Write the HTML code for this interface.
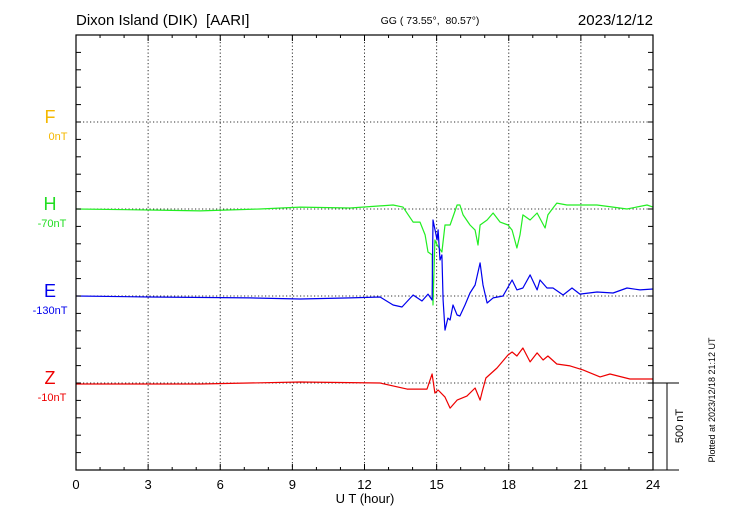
<!DOCTYPE html>
<html><head><meta charset="utf-8"><style>
body{margin:0;background:#fff;}
svg{display:block;font-family:"Liberation Sans",sans-serif;}
</style></head><body>
<svg id="chart" width="730" height="520">
<text x="76" y="25" font-size="15" style="white-space:pre" xml:space="preserve">Dixon Island (DIK)  [AARI]</text>
<text x="430" y="24" font-size="10.5" text-anchor="middle" style="white-space:pre" xml:space="preserve">GG ( 73.55°,  80.57°)</text>
<text x="653" y="25" font-size="15" text-anchor="end">2023/12/12</text>
<text x="365" y="503" font-size="13" text-anchor="middle">U T (hour)</text>
<g>
<text x="50" y="123" font-size="18" fill="#f5b800" text-anchor="middle">F</text>
<text x="58" y="140" font-size="11" fill="#f5b800" text-anchor="middle">0nT</text>
<text x="50" y="210" font-size="18" fill="#22dd22" text-anchor="middle">H</text>
<text x="52" y="227" font-size="11" fill="#22dd22" text-anchor="middle">-70nT</text>
<text x="50" y="297" font-size="18" fill="#0000ee" text-anchor="middle">E</text>
<text x="50" y="314" font-size="11" fill="#0000ee" text-anchor="middle">-130nT</text>
<text x="50" y="384" font-size="18" fill="#ee0000" text-anchor="middle">Z</text>
<text x="52" y="401" font-size="11" fill="#ee0000" text-anchor="middle">-10nT</text>
</g>
<g stroke="#000" stroke-width="1">
<line x1="653" y1="383" x2="679" y2="383"/><line x1="653" y1="470" x2="679" y2="470"/><line x1="667" y1="383" x2="667" y2="470"/>
</g>
<text transform="translate(683,426) rotate(-90)" font-size="11" text-anchor="middle">500 nT</text>
<text transform="translate(715,400) rotate(-90)" font-size="9" text-anchor="middle">Plotted at 2023/12/18 21:12 UT</text>
<g id="grid"></g><g id="series"></g><g id="axes"></g>
</svg>
<script>
const hTimes=[0,3.08,5.16,7.65,9.32,11.4,13.19,13.6,14.02,14.31,14.52,14.64,14.81,14.85,14.93,15.02,15.22,15.35,15.56,15.85,15.97,16.1,16.39,16.6,16.72,16.81,17.1,17.35,17.64,17.97,18.14,18.34,18.47,18.59,18.89,19.18,19.51,19.63,19.84,20.0,20.42,20.96,21.67,22.34,22.92,23.75,24];
const hValues=[0,-6,-11,0,11,6,23,11,-75,-75,-149,-247,-264,-552,-178,-207,-247,-92,-92,23,23,-34,-92,-121,-207,-92,-63,-23,-75,-92,-121,-224,-149,-34,-63,-23,-109,-34,6,34,23,23,23,11,0,23,11];
const eTimes=[0,3.08,7.24,9.32,11.4,12.65,13.19,13.56,14.02,14.39,14.64,14.81,14.85,15.02,15.06,15.14,15.22,15.27,15.35,15.47,15.56,15.68,15.85,15.97,16.18,16.39,16.6,16.81,16.93,17.1,17.35,17.76,18.14,18.34,18.59,18.89,19.18,19.3,19.59,19.84,20.26,20.63,20.96,21.67,22.34,22.92,23.46,24];
const eValues=[0,-6,-11,-17,-11,-6,-52,-63,6,-29,11,-23,437,322,380,207,236,-23,-196,-127,-138,-52,-109,-115,-52,17,63,190,63,-40,-11,0,92,35,46,121,35,92,46,46,6,46,11,23,17,46,35,40];
const zTimes=[0,5.16,9.32,12.65,13.77,14.6,14.81,14.93,15.06,15.35,15.56,15.85,16.26,16.6,16.81,16.89,17.05,17.51,17.97,18.14,18.34,18.59,18.89,19.18,19.43,19.63,20.0,20.55,21.09,21.8,22.21,23.04,24];
const zValues=[-6,-6,6,0,-35,-35,52,-58,-40,-81,-144,-98,-75,-29,-98,-52,29,86,161,178,155,201,121,173,132,155,109,98,75,35,52,23,23];
const xTickLabels=["0","3","6","9","12","15","18","21","24"];
const X0=76,X1=653,Y0=35,Y1=470,NT_PX=87/500;
const baselines={F:122,H:209,E:296,Z:383};
const xs=h=>X0+h*(X1-X0)/24;
const ys=(base,v)=>base-v*NT_PX;
const NS="http://www.w3.org/2000/svg";
function mk(tag,attrs,parent){const e=document.createElementNS(NS,tag);for(const k in attrs)e.setAttribute(k,attrs[k]);parent.appendChild(e);return e;}
const grid=document.getElementById('grid'),axes=document.getElementById('axes'),series=document.getElementById('series');
for(let i=1;i<8;i++){const l=mk('line',{x1:xs(i*3),x2:xs(i*3),y1:Y0,y2:Y1,stroke:'#333','stroke-dasharray':'1.2,2.3','stroke-width':1},grid);

}
for(const k of ['F','H','E','Z']){const l=mk('line',{x1:X0,x2:X1,y1:baselines[k],y2:baselines[k],stroke:'#333','stroke-dasharray':'1.2,2.3','stroke-width':1},grid);

}
const frame=mk('rect',{x:X0,y:Y0,width:X1-X0,height:Y1-Y0,fill:'none',stroke:'#000','stroke-width':1.2},axes);


for(let y=Y0+(383-Y0)%17.4;y<Y1;y+=17.4){mk('line',{x1:X0,x2:X0+5,y1:y,y2:y,stroke:'#000'},axes);mk('line',{x1:X1-5,x2:X1,y1:y,y2:y,stroke:'#000'},axes);}
for(let h=1;h<24;h++){const len=h%3?3:6;mk('line',{x1:xs(h),x2:xs(h),y1:Y1,y2:Y1-len,stroke:'#000'},axes);mk('line',{x1:xs(h),x2:xs(h),y1:Y0,y2:Y0+len,stroke:'#000'},axes);}
xTickLabels.forEach((t,i)=>{const e=mk('text',{x:xs(i*3),y:489,'font-size':13,'text-anchor':'middle'},axes);e.textContent=t;

});
function draw(times,vals,base,color,name){const d=times.map((t,i)=>(i?'L':'M')+xs(t).toFixed(1)+','+ys(base,vals[i]).toFixed(1)).join(' ');
const p=mk('path',{d:d,fill:'none',stroke:color,'stroke-width':1.2,'stroke-linejoin':'round'},series);

}
draw(hTimes,hValues,baselines.H,'#22ee22','h-component-line');
draw(eTimes,eValues,baselines.E,'#0000ee','e-component-line');
draw(zTimes,zValues,baselines.Z,'#ee0000','z-component-line');
</script>
</body></html>
